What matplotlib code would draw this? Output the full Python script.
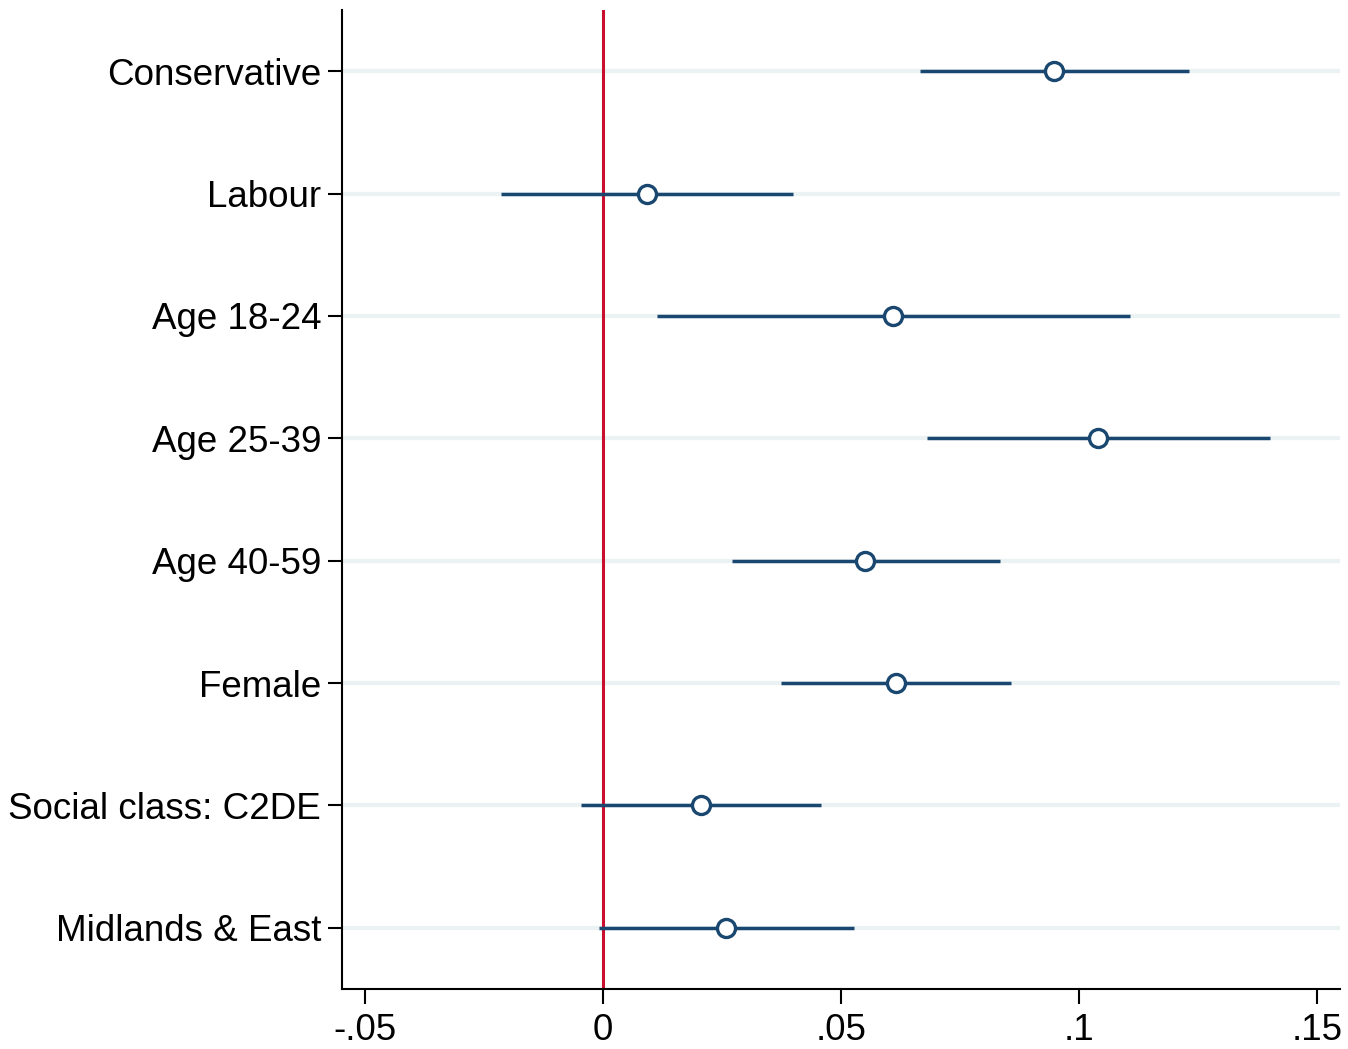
import matplotlib.pyplot as plt
import numpy as np

plt.rcParams['font.family'] = ['Liberation Sans', 'DejaVu Sans']

labels = ['Conservative', 'Labour', 'Age 18-24', 'Age 25-39', 'Age 40-59',
          'Female', 'Social class: C2DE', 'Midlands & East']
coef = [0.0947, 0.0092, 0.0609, 0.1040, 0.0550, 0.0616, 0.0206, 0.0258]
lo = [0.0666, -0.0214, 0.0113, 0.0681, 0.0271, 0.0374, -0.0046, -0.0008]
hi = [0.1231, 0.0399, 0.1107, 0.1401, 0.0834, 0.0857, 0.0458, 0.0527]
xticks = [-0.05, 0, 0.05, 0.1, 0.15]
xticklabels = ['-.05', '0', '.05', '.1', '.15']

navy = '#1a476f'
pos = np.arange(1, len(labels) + 1)

fig = plt.figure(figsize=(13.48, 10.49), dpi=100)
ax = fig.add_axes([0.2537, 0.0572, 0.7403, 0.9333])

for p in pos:
    ax.axhline(p, color='#eaf2f3', lw=3, zorder=0)
ax.axvline(0, color='#c8102e', lw=2.2, zorder=1)
ax.hlines(pos, lo, hi, color=navy, lw=2.5, zorder=2)
ax.plot(coef, pos, 'o', ms=13, mfc='white', mec=navy, mew=2.4, zorder=3)

ax.set_xlim(-0.0548, 0.1548)
ax.set_ylim(8.5, 0.5)
ax.set_yticks(pos)
ax.set_yticklabels(labels)
ax.set_xticks(xticks)
ax.set_xticklabels(xticklabels)
ax.tick_params(labelsize=26.5, width=1.5, length=10, pad=5)
ax.tick_params(axis='x', length=11, pad=6)

ax.spines['top'].set_visible(False)
ax.spines['right'].set_visible(False)
ax.spines['left'].set_linewidth(1.5)
ax.spines['bottom'].set_linewidth(1.5)

plt.savefig('out.png', dpi=100)
